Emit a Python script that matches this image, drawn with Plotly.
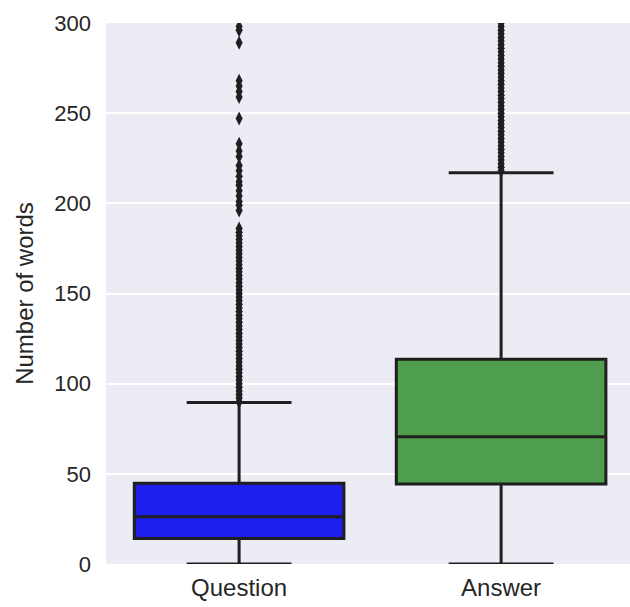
import plotly.graph_objects as go

categories = ["Question", "Answer"]
q1 = [14.2, 44.4]
median = [26.2, 70.6]
q3 = [44.8, 113.5]
lower_fence = [0, 0]
upper_fence = [89.5, 216.9]

question_outliers = [90, 92, 94, 96, 98, 100, 102, 104, 106, 108, 110, 112, 114, 116,
                     118, 120, 122, 124, 126, 128, 130, 132, 134, 136, 138, 140, 142,
                     144, 146, 148, 150, 152, 154, 156, 158, 160, 162, 164, 166, 168,
                     170, 172, 174, 176, 178, 180, 182, 184, 186, 196, 199, 201, 204,
                     207, 210, 212, 215, 218, 221, 226, 229, 233, 247, 259, 262, 265,
                     268, 289, 296, 298]
answer_outliers = [218, 220, 222, 224, 226, 228, 230, 232, 234, 236, 238, 240, 242, 244,
                   246, 248, 250, 252, 254, 256, 258, 260, 262, 264, 266, 268, 270, 272,
                   274, 276, 278, 280, 282, 284, 286, 288, 290, 292, 294, 296, 298, 300]

colors = ["rgb(30,30,236)", "rgb(78,158,78)"]
line_color = "#1f1f1f"
positions = [0, 1]

fig = go.Figure()
for i, cat in enumerate(categories):
    fig.add_trace(go.Box(
        x=[positions[i]], q1=[q1[i]], median=[median[i]], q3=[q3[i]],
        lowerfence=[lower_fence[i]], upperfence=[upper_fence[i]],
        fillcolor=colors[i], line=dict(color=line_color, width=3),
        width=0.8, whiskerwidth=0.5, name=cat, showlegend=False,
        hoverinfo="skip",
    ))

outlier_sets = [question_outliers, answer_outliers]
for i, vals in enumerate(outlier_sets):
    fig.add_trace(go.Scatter(
        x=[positions[i]] * len(vals), y=vals, mode="markers",
        marker=dict(symbol="diamond-tall", size=10, color=line_color,
                    line=dict(width=0)),
        showlegend=False, hoverinfo="skip",
    ))

font_family = "Liberation Sans, Arial, sans-serif"
fig.update_layout(
    width=630, height=607,
    margin=dict(l=106, r=0, t=23, b=43),
    paper_bgcolor="white",
    plot_bgcolor="#ECECF4",
    font=dict(family=font_family, size=22, color="#262626"),
    xaxis=dict(
        range=[-0.508, 1.492], tickvals=positions, ticktext=categories,
        showgrid=False, zeroline=False, showline=False,
        ticks="", tickfont=dict(size=24), ticklabelstandoff=7,
    ),
    yaxis=dict(
        range=[0, 300], tickvals=[0, 50, 100, 150, 200, 250, 300],
        showgrid=True, gridcolor="white", gridwidth=1.5,
        zeroline=False, showline=False, ticks="",
        ticklabelstandoff=14, tickfont=dict(size=22),
        title=dict(text="Number of words", font=dict(size=24), standoff=13),
    ),
)

fig.write_html("out.html")
